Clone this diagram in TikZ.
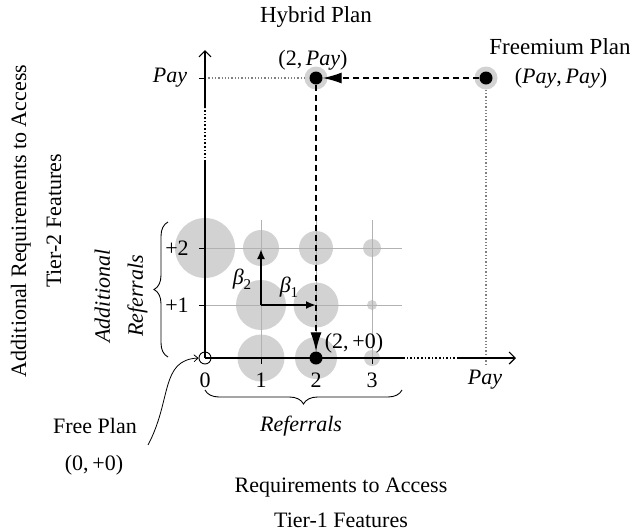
\documentclass[tikz,border=0pt]{standalone}
\usepackage{fontspec}
\setmainfont{Liberation Serif}
\usetikzlibrary{arrows.meta,decorations.pathreplacing}
\newcommand{\grk}[2]{{\itshape #1}\raisebox{-5pt}{\fontsize{15}{15}\selectfont #2}}
\begin{document}
\begin{tikzpicture}[x=1pt,y=-1pt,
  lbl/.style={font=\fontsize{22}{26}\selectfont, inner sep=0pt},
  biglbl/.style={font=\fontsize{23}{27}\selectfont, inner sep=0pt},
  bub/.style={fill=gray!35, draw=none},
  gridl/.style={gray!60, line width=1pt},
  blackdot/.style={circle, fill=black, minimum size=13pt, inner sep=0pt},
  halo/.style={circle, fill=gray!35, minimum size=23pt, inner sep=0pt},
  ax/.style={line width=1.2pt},
  axarrow/.style={ax, -{Straight Barb[length=6pt,width=12pt,line width=1.2pt]}},
  axdots/.style={line width=1.6pt, dotted},
  guide/.style={gray, line width=1.3pt, dotted},
  tick/.style={line width=0.8pt},
  move/.style={dashed, dash pattern=on 6pt off 4pt, line width=1.3pt, -{Latex[length=19pt,width=11pt]}},
  beta/.style={line width=2pt, -{Latex[length=10pt,width=8pt]}},
  bracedec/.style={decorate, decoration={brace, amplitude=14pt}, line width=0.9pt},
  ]
\useasboundingbox (0,0) rectangle (630,531);

% bubbles
\fill[bub] (205,248) circle[radius=30pt];
\fill[bub] (261,248) circle[radius=18pt];
\fill[bub] (316,248) circle[radius=17pt];
\fill[bub] (372,248) circle[radius=9pt];
\fill[bub] (261,305) circle[radius=25pt];
\fill[bub] (316,305) circle[radius=22.5pt];
\fill[bub] (372,305) circle[radius=5pt];
\fill[bub] (261,358) circle[radius=23.5pt];
\fill[bub] (316,358) circle[radius=21pt];
\fill[bub] (372,358) circle[radius=8pt];

% grid
\draw[gridl] (199,248) -- (402,248);
\draw[gridl] (199,305) -- (402,305);
\draw[gridl] (261,220) -- (261,364);
\draw[gridl] (316,220) -- (316,364);
\draw[gridl] (372,220) -- (372,364);

% coordinates
\coordinate (O) at (205,358);
\coordinate (xs1) at (403,358);
\coordinate (xs2) at (457,358);
\coordinate (xe) at (516,358);
\coordinate (ys1) at (205,162);
\coordinate (ys2) at (205,108);
\coordinate (ye) at (205,50);
\coordinate (ypay) at (205,78);
\coordinate (xpay) at (486,364);

% plan points
\node[halo] (hyh) at (316,78) {};
\node[halo] (frh) at (486,78) {};
\node[blackdot] (hy) at (316,78) {};
\node[blackdot] (fr) at (486,78) {};
\node[blackdot] (tz) at (316,358) {};

% guides
\draw[guide] (ypay) -- (hyh.west);
\draw[guide] (frh.south) -- (xpay);

% axes
\draw[ax] (O) -- (xs1);
\draw[axdots] (xs1) -- (xs2);
\draw[axarrow] (xs2) -- (xe);
\draw[ax] (O) -- (ys1);
\draw[axdots] (ys1) -- (ys2);
\draw[axarrow] (ys2) -- (ye);
\node[circle, draw, line width=0.9pt, minimum size=12pt, inner sep=0pt] (orig) at (O) {};

% ticks
\draw[tick] (261,358) -- (261,364);
\draw[tick] (316,358) -- (316,364);
\draw[tick] (372,358) -- (372,364);
\draw[tick] (199,305) -- (205,305);
\draw[tick] (199,248) -- (205,248);
\draw[tick] (199,78) -- (205,78);

% moves
\draw[move] (fr) -- (hy);
\draw[move] (hy) -- (tz);

% beta vectors
\coordinate (b0) at (261,305);
\coordinate (b1) at (316,305);
\coordinate (b2) at (261,249);
\draw[beta] (b0) -- (b1);
\draw[beta] (b0) -- (b2);
\node[lbl] (lb2) at (242,279) {\grk{β}{2}};
\node[lbl] (lb1) at (289,287) {\grk{β}{1}};

% axis labels
\node[lbl] (l0) at (205,380) {0};
\node[lbl] (l1) at (261,380) {1};
\node[lbl] (l2) at (316,380) {2};
\node[lbl] (l3) at (372,380) {3};
\node[lbl] (lxp) at (485,380) {\textit{Pay}};
\node[lbl] (lp1) at (177,305) {+1};
\node[lbl] (lp2) at (177,248) {+2};
\node[lbl] (lyp) at (170,78) {\textit{Pay}};

% point labels
\node[biglbl] (thy) at (316,17) {Hybrid Plan};
\node[lbl] (chy) at (313,60) {(2,\,\textit{Pay})};
\node[biglbl] (tfr) at (560,47) {Freemium Plan};
\node[lbl] (cfr) at (561,78) {(\textit{Pay},\,\textit{Pay})};
\node[lbl] (ctz) at (354,343) {(2,\,+0)};
\node[lbl] (tfree) at (95,426) {Free Plan};
\node[lbl] (cfree) at (94,465) {(0,\,+0)};
\coordinate (fs) at (148,445);
\draw[line width=0.8pt, -{Straight Barb[length=4pt,width=7pt]}] (fs) .. controls (172,400) and (160,360) .. (orig.west);

% braces
\coordinate (hb1) at (205,390);
\coordinate (hb2) at (402,390);
\draw[bracedec] (hb2) -- (hb1);
\node[lbl] (lref) at (301,426) {\textit{Referrals}};
\coordinate (vb1) at (168,357);
\coordinate (vb2) at (168,222);
\draw[bracedec] (vb1) -- (vb2);
\node[lbl, rotate=90, align=center] (laddref) at (121,296) {\textit{Additional}\\[7pt]\textit{Referrals}};

% axis titles
\node[lbl, align=center] (xtitle) at (341,503) {Requirements to Access\\[9pt]Tier-1 Features};
\node[lbl, rotate=90, align=center] (ytitle) at (36,221) {Additional Requirements to Access\\[9pt]Tier-2 Features};
\end{tikzpicture}
\end{document}
